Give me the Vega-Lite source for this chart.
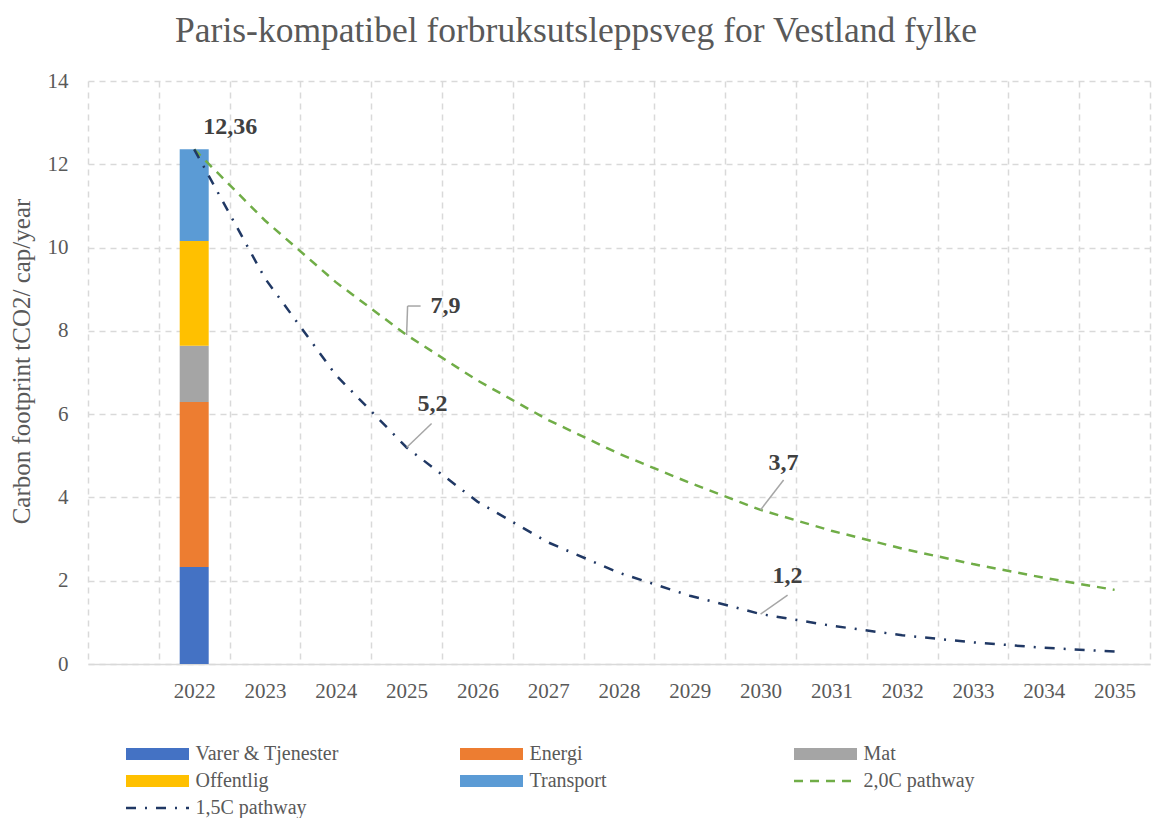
{
  "$schema": "https://vega.github.io/schema/vega-lite/v6.json",
  "width": 1062,
  "height": 583,
  "autosize": {"type": "none"},
  "padding": {"left": 88, "top": 81, "right": 5, "bottom": 154},
  "background": "white",
  "title": {
    "text": "Paris-kompatibel forbruksutsleppsveg for Vestland fylke",
    "font": "Liberation Serif",
    "fontSize": 35.5,
    "fontWeight": "normal",
    "color": "#595959",
    "anchor": "middle",
    "dx": -43,
    "offset": 21
  },
  "config": {"view": {"stroke": null}, "font": "Liberation Serif"},
  "datasets": {
    "bars": [
      {"year": "2022", "serie": "Varer & Tjenester", "verdi": 2.33, "nr": 1},
      {"year": "2022", "serie": "Energi", "verdi": 3.96, "nr": 2},
      {"year": "2022", "serie": "Mat", "verdi": 1.35, "nr": 3},
      {"year": "2022", "serie": "Offentlig", "verdi": 2.52, "nr": 4},
      {"year": "2022", "serie": "Transport", "verdi": 2.2, "nr": 5}
    ],
    "lines": [
      {"year": "2022", "serie": "2,0C pathway", "verdi": 12.36},
      {"year": "2023", "serie": "2,0C pathway", "verdi": 10.65},
      {"year": "2024", "serie": "2,0C pathway", "verdi": 9.17},
      {"year": "2025", "serie": "2,0C pathway", "verdi": 7.9},
      {"year": "2026", "serie": "2,0C pathway", "verdi": 6.81},
      {"year": "2027", "serie": "2,0C pathway", "verdi": 5.86},
      {"year": "2028", "serie": "2,0C pathway", "verdi": 5.05},
      {"year": "2029", "serie": "2,0C pathway", "verdi": 4.35},
      {"year": "2030", "serie": "2,0C pathway", "verdi": 3.7},
      {"year": "2031", "serie": "2,0C pathway", "verdi": 3.2},
      {"year": "2032", "serie": "2,0C pathway", "verdi": 2.77},
      {"year": "2033", "serie": "2,0C pathway", "verdi": 2.4},
      {"year": "2034", "serie": "2,0C pathway", "verdi": 2.07},
      {"year": "2035", "serie": "2,0C pathway", "verdi": 1.78},
      {"year": "2022", "serie": "1,5C pathway", "verdi": 12.36},
      {"year": "2023", "serie": "1,5C pathway", "verdi": 9.26},
      {"year": "2024", "serie": "1,5C pathway", "verdi": 6.94},
      {"year": "2025", "serie": "1,5C pathway", "verdi": 5.2},
      {"year": "2026", "serie": "1,5C pathway", "verdi": 3.9},
      {"year": "2027", "serie": "1,5C pathway", "verdi": 2.92},
      {"year": "2028", "serie": "1,5C pathway", "verdi": 2.19},
      {"year": "2029", "serie": "1,5C pathway", "verdi": 1.64},
      {"year": "2030", "serie": "1,5C pathway", "verdi": 1.2},
      {"year": "2031", "serie": "1,5C pathway", "verdi": 0.92},
      {"year": "2032", "serie": "1,5C pathway", "verdi": 0.69},
      {"year": "2033", "serie": "1,5C pathway", "verdi": 0.52},
      {"year": "2034", "serie": "1,5C pathway", "verdi": 0.39},
      {"year": "2035", "serie": "1,5C pathway", "verdi": 0.3}
    ],
    "labels": [
      {"year": "2022", "verdi": 12.36, "tekst": "12,36"},
      {"year": "2025", "verdi": 7.9, "tekst": "7,9"},
      {"year": "2025", "verdi": 5.2, "tekst": "5,2"},
      {"year": "2030", "verdi": 3.7, "tekst": "3,7"},
      {"year": "2030", "verdi": 1.2, "tekst": "1,2"}
    ]
  },
  "encoding": {
    "x": {
      "field": "year",
      "type": "ordinal",
      "scale": {
        "domain": ["2021", "2022", "2023", "2024", "2025", "2026", "2027", "2028", "2029", "2030", "2031", "2032", "2033", "2034", "2035"],
        "paddingInner": 0,
        "paddingOuter": 0
      },
      "axis": {
        "title": null,
        "tickBand": "extent",
        "labelExpr": "datum.value == '2021' ? '' : datum.label",
        "labelAngle": 0,
        "labelFont": "Liberation Serif",
        "labelFontSize": 21,
        "labelColor": "#595959",
        "labelPadding": 16,
        "ticks": false,
        "domain": true,
        "domainColor": "#d9d9d9",
        "domainWidth": 1.5,
        "grid": true,
        "gridColor": "#d9d9d9",
        "gridDash": [6, 5],
        "gridWidth": 1.5
      }
    },
    "y": {
      "field": "verdi",
      "type": "quantitative",
      "scale": {"domain": [0, 14], "nice": false},
      "axis": {
        "values": [0, 2, 4, 6, 8, 10, 12, 14],
        "title": "Carbon footprint tCO2/ cap/year",
        "titleFont": "Liberation Serif",
        "titleFontSize": 25,
        "titleFontWeight": "normal",
        "titleColor": "#595959",
        "titlePadding": 13,
        "titleY": 280,
        "labelFont": "Liberation Serif",
        "labelFontSize": 21,
        "labelColor": "#595959",
        "labelPadding": 20,
        "ticks": false,
        "domain": false,
        "grid": true,
        "gridColor": "#d9d9d9",
        "gridDash": [6, 5],
        "gridWidth": 1.5
      }
    }
  },
  "layer": [
    {
      "data": {"name": "bars"},
      "mark": {"type": "bar", "width": 29},
      "encoding": {
        "y": {"field": "verdi", "type": "quantitative", "stack": "zero"},
        "order": {"field": "nr", "type": "quantitative"},
        "color": {
          "field": "serie",
          "type": "nominal",
          "scale": {
            "domain": ["Varer & Tjenester", "Energi", "Mat", "Offentlig", "Transport", "2,0C pathway", "1,5C pathway"],
            "range": ["#4472c4", "#ed7d31", "#a5a5a5", "#ffc000", "#5b9bd5", "#70ad47", "#203864"]
          },
          "legend": {
            "orient": "none",
            "legendX": 36,
            "legendY": 665,
            "direction": "horizontal",
            "columns": 3,
            "gridAlign": "all",
            "columnPadding": 119,
            "rowPadding": 7,
            "title": null,
            "symbolType": "stroke",
            "symbolSize": 3969,
            "symbolStrokeWidth": 12,
            "symbolOffset": 23.5,
            "clipHeight": 16,
            "labelFont": "Liberation Serif",
            "labelFontSize": 20,
            "labelColor": "#595959",
            "labelOffset": 28,
            "labelLimit": 300,
            "encode": {
              "symbols": {
                "update": {
                  "stroke": {"scale": "color", "field": "value"},
                  "fill": {"value": "transparent"},
                  "opacity": {"value": 1},
                  "strokeWidth": {"signal": "datum.value == '2,0C pathway' || datum.value == '1,5C pathway' ? 2.5 : 12"},
                  "strokeDash": {"signal": "datum.value == '2,0C pathway' ? [9,7] : datum.value == '1,5C pathway' ? [10,9,2,9] : [1,0]"}
                }
              }
            }
          }
        }
      }
    },
    {
      "data": {"name": "lines"},
      "transform": [{"filter": "datum.serie == '2,0C pathway'"}],
      "mark": {"type": "line", "strokeDash": [9, 7], "strokeWidth": 2.5},
      "encoding": {
        "color": {
          "field": "serie",
          "type": "nominal",
          "scale": {
            "domain": ["Varer & Tjenester", "Energi", "Mat", "Offentlig", "Transport", "2,0C pathway", "1,5C pathway"],
            "range": ["#4472c4", "#ed7d31", "#a5a5a5", "#ffc000", "#5b9bd5", "#70ad47", "#203864"]
          }
        }
      }
    },
    {
      "data": {"name": "lines"},
      "transform": [{"filter": "datum.serie == '1,5C pathway'"}],
      "mark": {"type": "line", "strokeDash": [10, 9, 2, 9], "strokeWidth": 2.5},
      "encoding": {
        "color": {
          "field": "serie",
          "type": "nominal",
          "scale": {
            "domain": ["Varer & Tjenester", "Energi", "Mat", "Offentlig", "Transport", "2,0C pathway", "1,5C pathway"],
            "range": ["#4472c4", "#ed7d31", "#a5a5a5", "#ffc000", "#5b9bd5", "#70ad47", "#203864"]
          }
        }
      }
    },
    {
      "data": {"name": "labels"},
      "transform": [{"filter": "datum.tekst == '7,9'"}],
      "mark": {"type": "rule", "color": "#a6a6a6", "strokeWidth": 1.5, "x2Offset": 1, "y2Offset": -29},
      "encoding": {
        "x": {"field": "year", "type": "ordinal", "bandPosition": 0.5},
        "x2": {"field": "year", "bandPosition": 0.5},
        "y2": {"field": "verdi"}
      }
    },
    {
      "data": {"name": "labels"},
      "transform": [{"filter": "datum.tekst == '7,9'"}],
      "mark": {"type": "rule", "color": "#a6a6a6", "strokeWidth": 1.5, "xOffset": 1, "yOffset": -29, "x2Offset": 14, "y2Offset": -29},
      "encoding": {
        "x": {"field": "year", "type": "ordinal", "bandPosition": 0.5},
        "x2": {"field": "year", "bandPosition": 0.5},
        "y2": {"field": "verdi"}
      }
    },
    {
      "data": {"name": "labels"},
      "transform": [{"filter": "datum.tekst == '5,2'"}],
      "mark": {"type": "rule", "color": "#a6a6a6", "strokeWidth": 1.5, "x2Offset": 25, "y2Offset": -24},
      "encoding": {
        "x": {"field": "year", "type": "ordinal", "bandPosition": 0.5},
        "x2": {"field": "year", "bandPosition": 0.5},
        "y2": {"field": "verdi"}
      }
    },
    {
      "data": {"name": "labels"},
      "transform": [{"filter": "datum.tekst == '3,7'"}],
      "mark": {"type": "rule", "color": "#a6a6a6", "strokeWidth": 1.5, "x2Offset": 23, "y2Offset": -30},
      "encoding": {
        "x": {"field": "year", "type": "ordinal", "bandPosition": 0.5},
        "x2": {"field": "year", "bandPosition": 0.5},
        "y2": {"field": "verdi"}
      }
    },
    {
      "data": {"name": "labels"},
      "transform": [{"filter": "datum.tekst == '1,2'"}],
      "mark": {"type": "rule", "color": "#a6a6a6", "strokeWidth": 1.5, "x2Offset": 27, "y2Offset": -19},
      "encoding": {
        "x": {"field": "year", "type": "ordinal", "bandPosition": 0.5},
        "x2": {"field": "year", "bandPosition": 0.5},
        "y2": {"field": "verdi"}
      }
    },
    {
      "data": {"name": "labels"},
      "transform": [{"filter": "datum.tekst == '12,36'"}],
      "mark": {"type": "text", "font": "Liberation Serif", "fontSize": 24, "fontWeight": "bold", "color": "#404040", "dx": 36, "dy": -22},
      "encoding": {"text": {"field": "tekst"}}
    },
    {
      "data": {"name": "labels"},
      "transform": [{"filter": "datum.tekst == '7,9'"}],
      "mark": {"type": "text", "font": "Liberation Serif", "fontSize": 24, "fontWeight": "bold", "color": "#404040", "dx": 39, "dy": -29},
      "encoding": {"text": {"field": "tekst"}}
    },
    {
      "data": {"name": "labels"},
      "transform": [{"filter": "datum.tekst == '5,2'"}],
      "mark": {"type": "text", "font": "Liberation Serif", "fontSize": 24, "fontWeight": "bold", "color": "#404040", "dx": 26, "dy": -43},
      "encoding": {"text": {"field": "tekst"}}
    },
    {
      "data": {"name": "labels"},
      "transform": [{"filter": "datum.tekst == '3,7'"}],
      "mark": {"type": "text", "font": "Liberation Serif", "fontSize": 24, "fontWeight": "bold", "color": "#404040", "dx": 23, "dy": -47},
      "encoding": {"text": {"field": "tekst"}}
    },
    {
      "data": {"name": "labels"},
      "transform": [{"filter": "datum.tekst == '1,2'"}],
      "mark": {"type": "text", "font": "Liberation Serif", "fontSize": 24, "fontWeight": "bold", "color": "#404040", "dx": 27, "dy": -38},
      "encoding": {"text": {"field": "tekst"}}
    }
  ]
}
